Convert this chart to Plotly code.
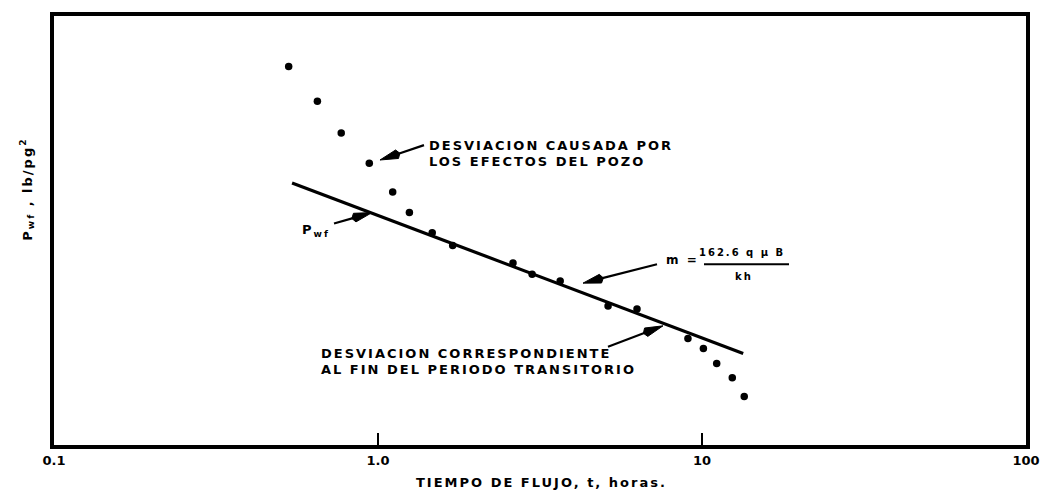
import math
import plotly.graph_objects as go

# Flowing time (hours) and bottom-hole flowing pressure (relative units)
tiempo_h = [0.53, 0.65, 0.77, 0.94, 1.11, 1.25, 1.47, 1.70, 2.61, 2.99,
            3.65, 5.13, 6.30, 9.05, 10.1, 11.1, 12.4, 13.5]
pwf = [88.2, 80.1, 72.7, 65.7, 59.0, 54.2, 49.5, 46.5, 42.4, 39.8,
       38.2, 32.4, 31.7, 24.8, 22.5, 19.0, 15.7, 11.3]

# Semilog straight line (transient period)
recta_t = [0.543, 13.4]
recta_p = [61.1, 21.3]

tick_vals = [0.1, 1, 10, 100]
tick_text = ["0.1", "1.0", "10", "100"]

W, H = 1053, 497
L, R, T, B = 54, 27, 13, 52
PW, PH = W - L - R, H - T - B


def fx(p):
    return (p - L) / PW


def fy(p):
    return (H - B - p) / PH


FONT = "DejaVu Sans"
fig = go.Figure()

fig.add_trace(go.Scatter(x=recta_t, y=recta_p, mode="lines",
                         line=dict(color="black", width=3.2), hoverinfo="skip"))
fig.add_trace(go.Scatter(x=tiempo_h, y=pwf, mode="markers",
                         marker=dict(color="black", size=7.5)))

ann = []
shapes = []


def label(text, x, y, size=13, xanchor="left", angle=0):
    ann.append(dict(text=text, x=fx(x), y=fy(y), xref="paper", yref="paper",
                    xanchor=xanchor, yanchor="middle", showarrow=False,
                    align="left" if xanchor == "left" else "center",
                    textangle=angle,
                    font=dict(family=FONT, size=size, color="black")))


def arrow(tail, head, head_len=18, head_half=4.5):
    """Pointer line with a long tapered head, drawn as paper-space shapes."""
    dx, dy = head[0] - tail[0], head[1] - tail[1]
    n = math.hypot(dx, dy)
    ux, uy = dx / n, dy / n
    bx, by = head[0] - ux * head_len, head[1] - uy * head_len
    px_, py_ = -uy * head_half, ux * head_half
    shapes.append(dict(type="line", xref="paper", yref="paper",
                       x0=fx(tail[0]), y0=fy(tail[1]), x1=fx(bx), y1=fy(by),
                       line=dict(color="black", width=2.2)))
    pts = [(head[0], head[1]), (bx + px_, by + py_),
           (bx - ux * 3, by - uy * 3), (bx - px_, by - py_)]
    path = "M " + " L ".join("%.5f %.5f" % (fx(a), fy(b)) for a, b in pts) + " Z"
    shapes.append(dict(type="path", xref="paper", yref="paper", path=path,
                       fillcolor="black", line=dict(color="black", width=1)))


label("<b>DESVIACION CAUSADA POR</b>", 427, 143)
label("<b>LOS EFECTOS DEL POZO</b>", 427, 160)
arrow((424, 143), (380, 158))

label("<b>P<sub>wf</sub></b>", 300, 229, size=13)
arrow((334, 222), (372, 211))

label("<b>m =</b>", 664, 259, size=12)
label("<b>162.6 q μ B</b>", 742, 251, size=10, xanchor="center")
label("<b>kh</b>", 744, 275, size=10, xanchor="center")
arrow((657, 263), (583, 282))

label("<b>DESVIACION CORRESPONDIENTE</b>", 319, 353)
label("<b>AL FIN DEL PERIODO TRANSITORIO</b>", 319, 369)
arrow((608, 346), (663, 325))

label("<b>P<sub>wf</sub> , lb/pg<sup>2</sup></b>", 27, 188, size=13,
      xanchor="center", angle=-90)
label("<b>TIEMPO DE FLUJO, t, horas.</b>", 541, 483, size=13, xanchor="center")

# Fraction bar of the slope formula
shapes.append(dict(type="line", xref="paper", yref="paper",
                   x0=fx(704), x1=fx(789), y0=fy(263), y1=fy(263),
                   line=dict(color="black", width=2)))

fig.update_layout(
    width=W, height=H,
    margin=dict(l=L, r=R, t=T, b=B),
    paper_bgcolor="white", plot_bgcolor="white",
    showlegend=False,
    annotations=ann,
    shapes=shapes,
    xaxis=dict(type="log", range=[-1, 2], tickvals=tick_vals,
               ticktext=["<b>%s</b>" % t for t in tick_text],
               ticks="inside", ticklen=12, tickwidth=2, tickcolor="black",
               showgrid=False, zeroline=False, showline=True, linewidth=4,
               linecolor="black", mirror=True,
               tickfont=dict(family=FONT, size=13, color="black")),
    yaxis=dict(range=[0, 100], showticklabels=False, ticks="", showgrid=False,
               zeroline=False, showline=True, linewidth=4, linecolor="black",
               mirror=True),
)

# Wide letter spacing for the typewritten-style labels
spacing_js = """
document.querySelectorAll('text.annotation-text').forEach(function (t) {
  t.setAttribute('letter-spacing', '2px');
});
"""

fig.write_html("out.html", post_script=spacing_js)
